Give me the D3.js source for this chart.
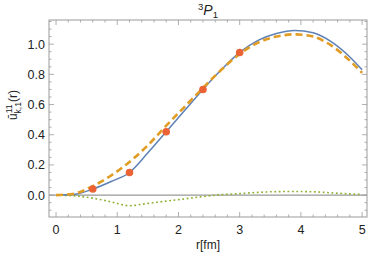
<!DOCTYPE html>
<html>
<head>
<meta charset="utf-8">
<script src="https://cdn.jsdelivr.net/npm/d3@7"></script>
<style>
  body { margin: 0; background: #fff; }
  text { font-family: "Liberation Sans", Arial, sans-serif; fill: #222; }
</style>
</head>
<body>
<div id="wrapper"></div>
<script>
// data
const rGrid = [0, 0.3, 0.6, 0.9, 1.2, 1.5, 1.8, 2.1, 2.4, 2.7, 3.0, 3.3, 3.6, 3.9, 4.2, 4.5, 4.8, 5.0]
const exactValues = [0, 0.005, 0.04, 0.09, 0.15, 0.28, 0.42, 0.56, 0.70, 0.83, 0.945, 1.025, 1.07, 1.09, 1.075, 1.015, 0.915, 0.83]
const fitValues = [0, 0.01, 0.06, 0.13, 0.22, 0.33, 0.46, 0.585, 0.71, 0.83, 0.935, 1.01, 1.05, 1.065, 1.05, 0.99, 0.89, 0.81]
const diffValues = [0, -0.005, -0.02, -0.045, -0.07, -0.055, -0.04, -0.025, -0.01, 0.003, 0.01, 0.018, 0.023, 0.024, 0.022, 0.015, 0.008, 0.004]
const pointR = [0.6, 1.2, 1.8, 2.4, 3.0]
const pointValues = [0.04, 0.15, 0.42, 0.70, 0.945]
const xTicks = [0, 1, 2, 3, 4, 5]
const yTicks = [0.0, 0.2, 0.4, 0.6, 0.8, 1.0]

const dimensions = {
  width: 368,
  height: 259,
  margin: { top: 20, right: 1, bottom: 42, left: 49 },
}
dimensions.boundedWidth = dimensions.width - dimensions.margin.left - dimensions.margin.right
dimensions.boundedHeight = dimensions.height - dimensions.margin.top - dimensions.margin.bottom

const svg = d3.select("#wrapper")
  .append("svg")
    .attr("width", dimensions.width)
    .attr("height", dimensions.height)

const bounds = svg.append("g")
  .attr("transform", `translate(${dimensions.margin.left},${dimensions.margin.top})`)

const xScale = d3.scaleLinear()
  .domain([-0.115, 5.08])
  .range([0, dimensions.boundedWidth])

const yScale = d3.scaleLinear()
  .domain([-0.145, 1.16])
  .range([dimensions.boundedHeight, 0])

// zero line
bounds.append("line")
  .attr("x1", 0).attr("x2", dimensions.boundedWidth)
  .attr("y1", yScale(0)).attr("y2", yScale(0))
  .attr("stroke", "#999").attr("stroke-width", 1.2)

const toPts = vals => rGrid.map((r, i) => [r, vals[i]])
const lineGen = d3.line()
  .x(d => xScale(d[0]))
  .y(d => yScale(d[1]))
  .curve(d3.curveMonotoneX)

bounds.append("path")
  .attr("d", lineGen(toPts(diffValues)))
  .attr("fill", "none")
  .attr("stroke", "#8FB032")
  .attr("stroke-width", 1.6)
  .attr("stroke-dasharray", "1.8,2.6")

bounds.append("path")
  .attr("d", lineGen(toPts(exactValues)))
  .attr("fill", "none")
  .attr("stroke", "#5E81B5")
  .attr("stroke-width", 1.5)

bounds.append("path")
  .attr("d", lineGen(toPts(fitValues)))
  .attr("fill", "none")
  .attr("stroke", "#E19C24")
  .attr("stroke-width", 2.6)
  .attr("stroke-dasharray", "7,4")

bounds.selectAll("circle")
  .data(pointR)
  .join("circle")
    .attr("cx", d => xScale(d))
    .attr("cy", (d, i) => yScale(pointValues[i]))
    .attr("r", 3.8)
    .attr("fill", "#EB6235")

// frame with ticks on all sides
const frameColor = "#9a9a9a"
bounds.append("rect")
  .attr("width", dimensions.boundedWidth)
  .attr("height", dimensions.boundedHeight)
  .attr("fill", "none")
  .attr("stroke", frameColor)
  .attr("stroke-width", 1)

const xMinor = d3.range(0, 5.01, 0.2).filter(v => Math.abs(v - Math.round(v)) > 1e-6)
const yMinor = d3.range(-0.1, 1.16, 0.05).filter(v => Math.abs(v * 5 - Math.round(v * 5)) > 1e-6)

const tickG = bounds.append("g").attr("stroke", frameColor).attr("stroke-width", 0.8)
const addXTicks = (vals, len) => vals.forEach(v => {
  tickG.append("line").attr("x1", xScale(v)).attr("x2", xScale(v))
    .attr("y1", dimensions.boundedHeight).attr("y2", dimensions.boundedHeight - len)
  tickG.append("line").attr("x1", xScale(v)).attr("x2", xScale(v))
    .attr("y1", 0).attr("y2", len)
})
const addYTicks = (vals, len) => vals.forEach(v => {
  tickG.append("line").attr("y1", yScale(v)).attr("y2", yScale(v))
    .attr("x1", 0).attr("x2", len)
  tickG.append("line").attr("y1", yScale(v)).attr("y2", yScale(v))
    .attr("x1", dimensions.boundedWidth).attr("x2", dimensions.boundedWidth - len)
})
addXTicks(xTicks, 5)
addXTicks(xMinor, 2.5)
addYTicks(yTicks, 5)
addYTicks(yMinor, 2.5)

// tick labels
bounds.append("g").selectAll("text")
  .data(xTicks)
  .join("text")
    .attr("x", d => xScale(d))
    .attr("y", dimensions.boundedHeight + 17)
    .attr("text-anchor", "middle")
    .style("font-size", "12.5px")
    .text(d => d)

bounds.append("g").selectAll("text")
  .data(yTicks)
  .join("text")
    .attr("x", -4)
    .attr("y", d => yScale(d))
    .attr("dy", "0.36em")
    .attr("text-anchor", "end")
    .style("font-size", "12.5px")
    .text(d3.format(".1f"))

// axis labels
svg.append("text")
  .attr("x", dimensions.margin.left + dimensions.boundedWidth / 2)
  .attr("y", 249)
  .attr("text-anchor", "middle")
  .style("font-size", "12px")
  .text("r[fm]")

const yLabel = svg.append("text")
  .attr("transform", `translate(17,105) rotate(-90)`)
  .attr("text-anchor", "middle")
  .style("font-size", "12px")
yLabel.append("tspan").text("ū")
yLabel.append("tspan").attr("dy", -5).style("font-size", "8.5px").text("11")
yLabel.append("tspan").attr("dx", -9).attr("dy", 9).style("font-size", "8.5px").text("k,1")
yLabel.append("tspan").attr("dy", -4).text("(r)")

const title = svg.append("text")
  .attr("x", dimensions.margin.left + dimensions.boundedWidth / 2)
  .attr("y", 15)
  .attr("text-anchor", "middle")
  .style("font-size", "14px")
title.append("tspan").attr("dy", -5).style("font-size", "9.5px").text("3")
title.append("tspan").attr("dy", 5).style("font-style", "italic").text("P")
title.append("tspan").attr("dy", 3).style("font-size", "9.5px").text("1")
</script>
</body>
</html>
